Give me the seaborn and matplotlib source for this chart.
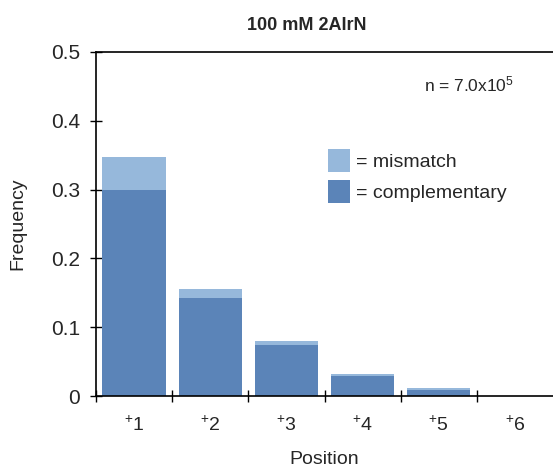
import numpy as np
import pandas as pd
import seaborn as sns
import matplotlib.pyplot as plt
from matplotlib.patches import Patch
from matplotlib.ticker import FixedLocator

positions = ['1', '2', '3', '4', '5', '6']
total = [0.347, 0.155, 0.080, 0.032, 0.012, 0.0]
complementary = [0.299, 0.142, 0.074, 0.029, 0.009, 0.0]

c_mis = '#96b8db'
c_comp = '#5b84b8'

sns.set_theme(style='ticks')
plt.rcParams['font.family'] = ['Liberation Sans', 'DejaVu Sans']
plt.rcParams['mathtext.default'] = 'regular'

df = pd.DataFrame({'pos': positions, 'total': total, 'comp': complementary})

fig = plt.figure(figsize=(5.53, 4.70), dpi=100)
ax = fig.add_axes([0.1736, 0.1574, 0.8264, 0.732])

sns.barplot(data=df, x='pos', y='total', color=c_mis, saturation=1, width=0.83, linewidth=0, ax=ax)
sns.barplot(data=df, x='pos', y='comp', color=c_comp, saturation=1, width=0.83, linewidth=0, ax=ax)

ax.set_xlim(-0.5, 5.5)
ax.set_ylim(0, 0.5)
ax.set_yticks([0, 0.1, 0.2, 0.3, 0.4, 0.5])
ax.set_yticklabels(['0', '0.1', '0.2', '0.3', '0.4', '0.5'], fontsize=15)
ax.set_xticks(range(len(positions)))
ax.set_xticklabels([r'$^{+}$' + p for p in positions], fontsize=14)
ax.tick_params(axis='x', which='major', length=0, pad=14)
ax.xaxis.set_minor_locator(FixedLocator(np.arange(-0.5, 5.0, 1.0)))
ax.tick_params(axis='x', which='minor', direction='inout', length=9, width=1, color='black')
ax.tick_params(axis='y', direction='inout', length=9, width=1, color='black', pad=7)

for s in ['left', 'bottom', 'top']:
    ax.spines[s].set_color('black')
    ax.spines[s].set_linewidth(1.2)
ax.spines['right'].set_visible(False)

ax.set_xlabel('Position', fontsize=14, labelpad=12)
ax.set_ylabel('Frequency', fontsize=14, labelpad=18)
ax.set_title('100 mM 2AIrN', fontsize=13, fontweight='bold', pad=16, x=0.462)

ax.text(0.915, 0.905, 'n = 7.0x10$^{5}$', transform=ax.transAxes, ha='right', va='center', fontsize=12.5)

handles = [Patch(facecolor=c_mis, edgecolor='none'), Patch(facecolor=c_comp, edgecolor='none')]
ax.legend(handles, ['= mismatch', '= complementary'], loc='upper left', bbox_to_anchor=(0.49, 0.742),
          frameon=False, fontsize=14, handlelength=1.15, handleheight=1.45, handletextpad=0.3,
          labelspacing=0.45, borderaxespad=0)

fig.savefig('out.png', dpi=100)
